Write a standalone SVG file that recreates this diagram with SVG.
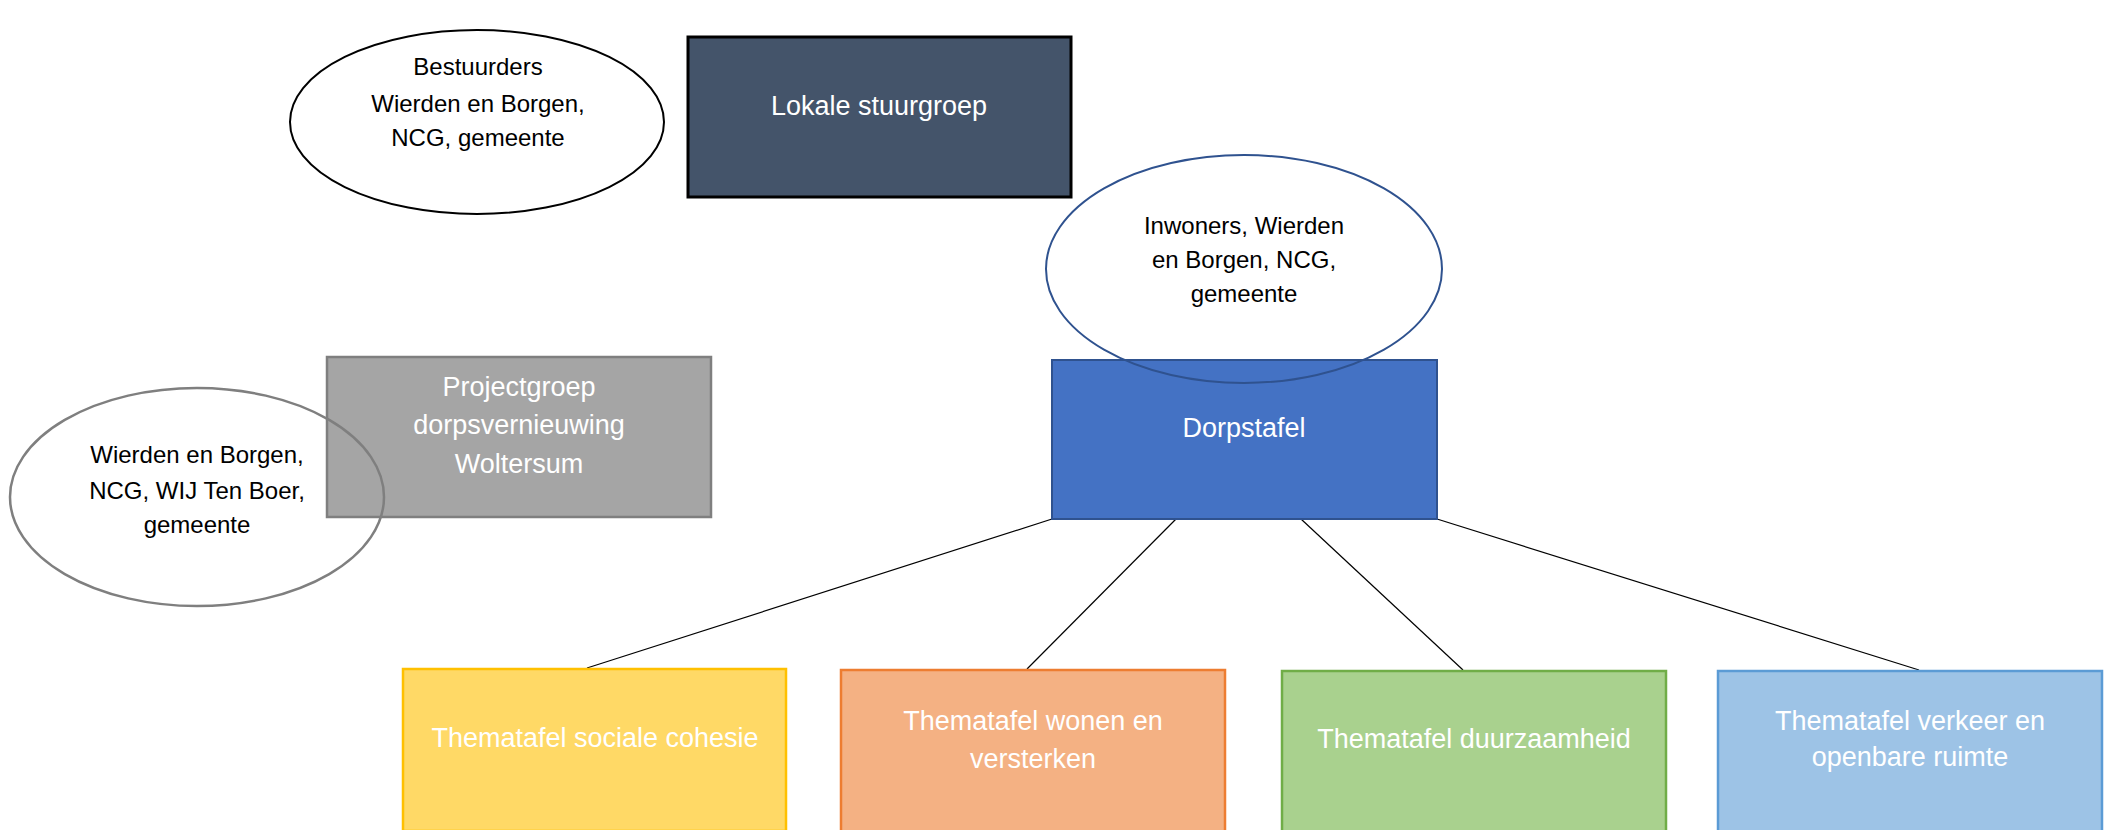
<svg xmlns="http://www.w3.org/2000/svg" width="2112" height="830" viewBox="0 0 2112 830">
<style>
text{font-family:"Liberation Sans",Arial,sans-serif;text-anchor:middle}
.w{fill:#ffffff;font-size:27px}
.k{fill:#000000;font-size:24px}
.ell{fill:none}
.conn{stroke:#000000;stroke-width:1.2;fill:none}
</style>
<rect width="2112" height="830" fill="#ffffff"/>
<g id="connectors">
<line class="conn" x1="1052" y1="519" x2="587" y2="668"/>
<line class="conn" x1="1176" y1="519" x2="1027" y2="669"/>
<line class="conn" x1="1301" y1="519" x2="1463" y2="670"/>
<line class="conn" x1="1437" y1="519" x2="1919" y2="670"/>
</g>
<g id="lokale-stuurgroep">
<rect x="688" y="37" width="383" height="160" fill="#44546A" stroke="#000000" stroke-width="3"/>
<text class="w" x="879" y="115">Lokale stuurgroep</text>
</g>
<g id="bestuurders">
<ellipse class="ell" cx="477" cy="122" rx="187" ry="92" stroke="#000000" stroke-width="2"/>
<text class="k" x="478" y="75">Bestuurders</text>
<text class="k" x="478" y="112">Wierden en Borgen,</text>
<text class="k" x="478" y="146">NCG, gemeente</text>
</g>
<g id="dorpstafel">
<rect x="1052" y="360" width="385" height="159" fill="#4472C4" stroke="#2F528F" stroke-width="2"/>
<text class="w" x="1244" y="437">Dorpstafel</text>
</g>
<g id="inwoners">
<ellipse class="ell" cx="1244" cy="269" rx="198" ry="114" stroke="#2F528F" stroke-width="2"/>
<text class="k" x="1244" y="234">Inwoners, Wierden</text>
<text class="k" x="1244" y="268">en Borgen, NCG,</text>
<text class="k" x="1244" y="302">gemeente</text>
</g>
<g id="projectgroep">
<rect x="327" y="357" width="384" height="160" fill="#A5A5A5" stroke="#7F7F7F" stroke-width="2.5"/>
<text class="w" x="519" y="396">Projectgroep</text>
<text class="w" x="519" y="434">dorpsvernieuwing</text>
<text class="w" x="519" y="473">Woltersum</text>
</g>
<g id="projectgroep-leden">
<ellipse class="ell" cx="197" cy="497" rx="187" ry="109" stroke="#7F7F7F" stroke-width="2.5"/>
<text class="k" x="197" y="463">Wierden en Borgen,</text>
<text class="k" x="197" y="499">NCG, WIJ Ten Boer,</text>
<text class="k" x="197" y="533">gemeente</text>
</g>
<g id="thema-sociale-cohesie">
<rect x="403" y="669" width="383" height="162" fill="#FFD966" stroke="#FFC000" stroke-width="2.5"/>
<text class="w" x="595" y="747">Thematafel sociale cohesie</text>
</g>
<g id="thema-wonen">
<rect x="841" y="670" width="384" height="162" fill="#F4B183" stroke="#ED7D31" stroke-width="2.5"/>
<text class="w" x="1033" y="730">Thematafel wonen en</text>
<text class="w" x="1033" y="768">versterken</text>
</g>
<g id="thema-duurzaamheid">
<rect x="1282" y="671" width="384" height="162" fill="#A9D18E" stroke="#70AD47" stroke-width="2.5"/>
<text class="w" x="1474" y="748">Thematafel duurzaamheid</text>
</g>
<g id="thema-verkeer">
<rect x="1718" y="671" width="384" height="162" fill="#9DC3E6" stroke="#5B9BD5" stroke-width="2.5"/>
<text class="w" x="1910" y="730">Thematafel verkeer en</text>
<text class="w" x="1910" y="766">openbare ruimte</text>
</g>
</svg>
